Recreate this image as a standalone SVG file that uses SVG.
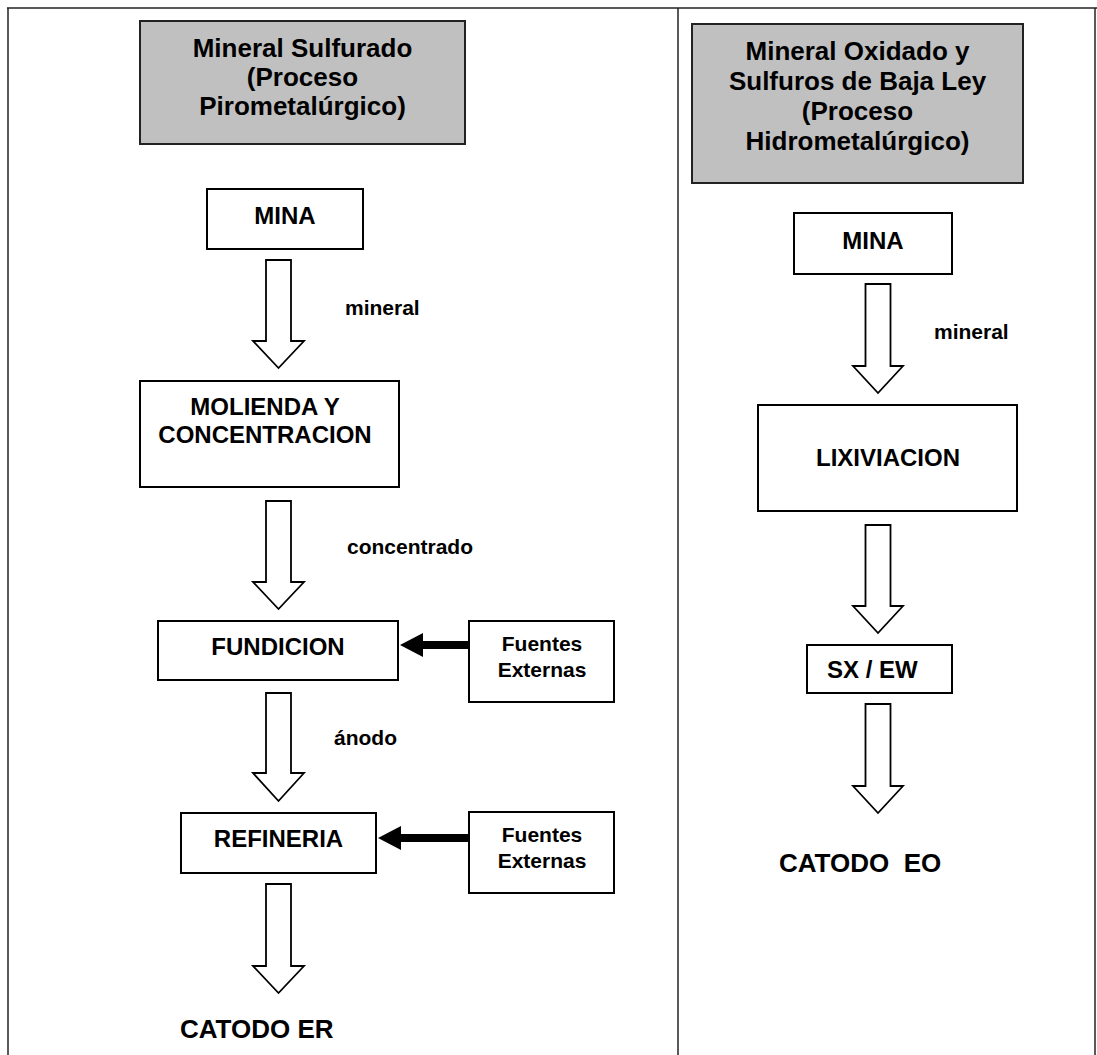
<svg xmlns="http://www.w3.org/2000/svg" width="1097" height="1055" viewBox="0 0 1097 1055">
<style>
.frame{fill:none;stroke:#222;stroke-width:1.5}
.box{fill:#fff;stroke:#000;stroke-width:2}
.hdr{fill:#c0c0c0;stroke:#222;stroke-width:2}
.t{font-family:"Liberation Sans",Arial,sans-serif;font-weight:bold;fill:#000;text-anchor:middle}
.b{font-size:24px}
.h{font-size:26px}
.s{font-size:21px}
.lbl{font-family:"Liberation Sans",Arial,sans-serif;font-weight:bold;font-size:21px;fill:#000}
.big{font-family:"Liberation Sans",Arial,sans-serif;font-weight:bold;font-size:26px;fill:#000}
.ha{fill:#fff;stroke:#000;stroke-width:1.8;stroke-linejoin:miter}
.sa{fill:#000;stroke:none}
</style>
<rect width="1097" height="1055" fill="#fff"/>
<g id="frame">
<line class="frame" x1="7" y1="8" x2="1097" y2="8"/>
<line class="frame" x1="8" y1="8" x2="8" y2="1055"/>
<line class="frame" x1="678" y1="8" x2="678" y2="1055"/>
<line class="frame" x1="1095" y1="8" x2="1095" y2="1055"/>
</g>
<g id="header-left">
<rect class="hdr" x="140" y="21" width="325" height="123"/>
<text class="t h" x="302.5" y="57">Mineral Sulfurado</text>
<text class="t h" x="302.5" y="86">(Proceso</text>
<text class="t h" x="302.5" y="115">Pirometalúrgico)</text>
</g>
<g id="header-right">
<rect class="hdr" x="692" y="24" width="331" height="159"/>
<text class="t h" x="857.5" y="60">Mineral Oxidado y</text>
<text class="t h" x="857.5" y="90">Sulfuros de Baja Ley</text>
<text class="t h" x="857.5" y="120">(Proceso</text>
<text class="t h" x="857.5" y="150">Hidrometalúrgico)</text>
</g>
<g id="mina-left">
<rect class="box" x="207" y="189" width="156" height="60"/>
<text class="t b" x="285" y="224">MINA</text>
</g>
<g id="molienda">
<rect class="box" x="140" y="381" width="259" height="106"/>
<text class="t b" x="265" y="415">MOLIENDA Y</text>
<text class="t b" x="265" y="443">CONCENTRACION</text>
</g>
<g id="fundicion">
<rect class="box" x="158" y="621" width="240" height="59"/>
<text class="t b" x="278" y="655">FUNDICION</text>
</g>
<g id="fuentes-1">
<rect class="box" x="469" y="621" width="145" height="81"/>
<text class="t s" x="542" y="651">Fuentes</text>
<text class="t s" x="542" y="677">Externas</text>
</g>
<g id="refineria">
<rect class="box" x="181" y="813" width="195" height="60"/>
<text class="t b" x="278.5" y="847">REFINERIA</text>
</g>
<g id="fuentes-2">
<rect class="box" x="469" y="812" width="145" height="81"/>
<text class="t s" x="542" y="842">Fuentes</text>
<text class="t s" x="542" y="868">Externas</text>
</g>
<g id="catodo-er">
<text class="big" x="180" y="1038">CATODO ER</text>
</g>
<g id="mina-right">
<rect class="box" x="794" y="213" width="158" height="61"/>
<text class="t b" x="873" y="249">MINA</text>
</g>
<g id="lixiviacion">
<rect class="box" x="758" y="405" width="259" height="106"/>
<text class="t b" x="888" y="466">LIXIVIACION</text>
</g>
<g id="sxew">
<rect class="box" x="807" y="645" width="145" height="48"/>
<text class="lbl" x="827" y="678" style="font-size:24px">SX / EW</text>
</g>
<g id="catodo-eo">
<text class="big" x="779" y="872" xml:space="preserve">CATODO  EO</text>
</g>
<g id="connectors">
<path class="ha" d="M266,260 V341 H253 L278.5,368 L304,341 H291 V260 Z"/>
<path class="ha" d="M266,501 V582 H253 L278.5,609 L304,582 H291 V501 Z"/>
<path class="ha" d="M266,693 V773 H253 L278.5,801 L304,773 H291 V693 Z"/>
<path class="ha" d="M266,884 V966 H253 L278.5,993 L304,966 H291 V884 Z"/>
<path class="ha" d="M865.5,284 V366 H853 L878,393 L903,366 H890.5 V284 Z"/>
<path class="ha" d="M865.5,525 V606 H853 L878,633 L903,606 H890.5 V525 Z"/>
<path class="ha" d="M865.5,704 V786 H853 L878,813 L903,786 H890.5 V704 Z"/>
<path class="sa" d="M469,641 H423 V633 L400,645 L423,657 V649 H469 Z"/>
<path class="sa" d="M469,834 H401 V826 L378,838 L401,850 V842 H469 Z"/>
<text class="lbl" x="345" y="315">mineral</text>
<text class="lbl" x="347" y="554">concentrado</text>
<text class="lbl" x="334" y="745">ánodo</text>
<text class="lbl" x="934" y="339">mineral</text>
</g>
</svg>
